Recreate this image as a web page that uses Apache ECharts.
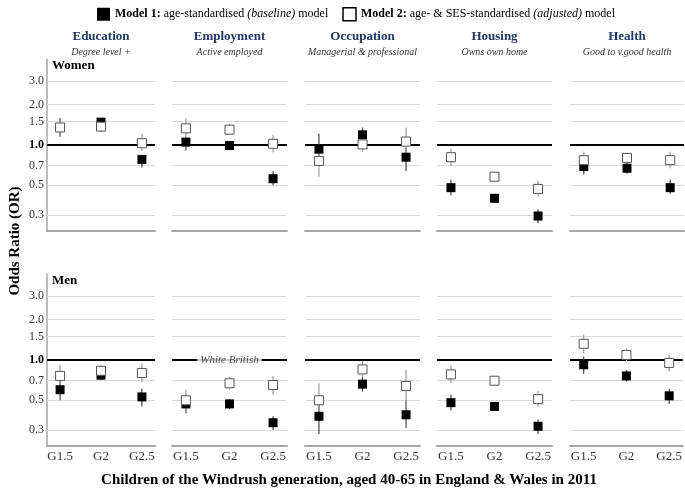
<!DOCTYPE html>
<html><head><meta charset="utf-8">
<script src="https://cdn.jsdelivr.net/npm/echarts@6/dist/echarts.min.js"></script>
<style>html,body{margin:0;padding:0;background:#fff}#c{width:685px;height:489px}</style>
</head><body><div id="c"></div>
<script>
// ---------- DATA ----------
const generations = ['G1.5', 'G2', 'G2.5'];
const domains = ['Education', 'Employment', 'Occupation', 'Housing', 'Health'];
const outcomes = ['Degree level +', 'Active employed', 'Managerial & professional', 'Owns own home', 'Good to v.good health'];
const sexes = ['Women', 'Men'];
const gridTicks = [0.3, 0.5, 0.7, 1.5, 2.0, 3.0];
const referenceOR = 1.0;
const referenceLabel = 'White British';

// rows = domains, columns = generations (G1.5, G2, G2.5)
const womenM1OR   = [[1.35, 1.48, 0.78], [1.05, 0.99, 0.56], [0.93, 1.19, 0.81], [0.48, 0.40, 0.295], [0.69, 0.67, 0.48]];
const womenM1Low  = [[1.15, 1.38, 0.68], [0.91, 0.93, 0.50], [0.80, 1.10, 0.64], [0.42, 0.38, 0.26], [0.60, 0.61, 0.43]];
const womenM1High = [[1.58, 1.57, 0.84], [1.15, 1.05, 0.64], [1.21, 1.35, 0.95], [0.55, 0.42, 0.33], [0.78, 0.73, 0.55]];
const womenM2OR   = [[1.35, 1.37, 1.03], [1.33, 1.30, 1.02], [0.76, 1.01, 1.06], [0.81, 0.58, 0.47], [0.77, 0.80, 0.77]];
const womenM2Low  = [[1.15, 1.25, 0.90], [1.15, 1.20, 0.88], [0.58, 0.89, 0.85], [0.70, 0.55, 0.41], [0.67, 0.72, 0.67]];
const womenM2High = [[1.58, 1.50, 1.21], [1.58, 1.44, 1.19], [1.00, 1.13, 1.35], [0.94, 0.63, 0.54], [0.89, 0.87, 0.89]];

const menM1OR   = [[0.60, 0.77, 0.53], [0.47, 0.47, 0.34], [0.38, 0.66, 0.39], [0.48, 0.45, 0.32], [0.92, 0.76, 0.54]];
const menM1Low  = [[0.50, 0.71, 0.45], [0.40, 0.43, 0.30], [0.28, 0.58, 0.31], [0.42, 0.42, 0.28], [0.79, 0.69, 0.47]];
const menM1High = [[0.70, 0.83, 0.61], [0.55, 0.51, 0.38], [0.50, 0.75, 0.50], [0.55, 0.48, 0.36], [1.06, 0.84, 0.61]];
const menM2OR   = [[0.76, 0.83, 0.80], [0.50, 0.67, 0.65], [0.50, 0.85, 0.64], [0.78, 0.70, 0.51], [1.32, 1.09, 0.95]];
const menM2Low  = [[0.63, 0.75, 0.68], [0.42, 0.60, 0.55], [0.38, 0.75, 0.45], [0.67, 0.66, 0.45], [1.12, 0.98, 0.82]];
const menM2High = [[0.92, 0.91, 0.94], [0.60, 0.75, 0.76], [0.67, 0.98, 0.84], [0.91, 0.74, 0.59], [1.55, 1.22, 1.09]];

// ---------- LAYOUT ----------
const FONT = '"Liberation Serif", "Times New Roman", serif';
const colLeft = [47, 172, 305, 437, 570];
const colWidth = [108, 115, 115, 115, 114];
const rowTop = [59, 274];
const rowHeight = 172;
const NAVY = '#1f3864';

const estimates = {
  Women: { m1: [womenM1OR, womenM1Low, womenM1High], m2: [womenM2OR, womenM2Low, womenM2High] },
  Men:   { m1: [menM1OR, menM1Low, menM1High],       m2: [menM2OR, menM2Low, menM2High] }
};

function errRender(color) {
  return function (params, api) {
    const x = api.value(0);
    const p1 = api.coord([x, api.value(1)]);
    const p2 = api.coord([x, api.value(2)]);
    return { type: 'line', shape: { x1: p1[0], y1: p1[1], x2: p2[0], y2: p2[1] },
             style: { stroke: color, lineWidth: 1.2 } };
  };
}

const grids = [], xAxes = [], yAxes = [], series = [];
let gi = 0;
sexes.forEach((sex, r) => {
  domains.forEach((dom, c) => {
    grids.push({ left: colLeft[c], top: rowTop[r], width: colWidth[c], height: rowHeight });
    xAxes.push({
      type: 'value', gridIndex: gi, min: 0.68, max: 3.32,
      axisLine: { show: true, onZero: false, lineStyle: { color: '#a6a6a6', width: 2 } },
      axisTick: { show: false }, splitLine: { show: false },
      axisLabel: {
        show: r === 1, customValues: [1, 2, 3], margin: 4,
        formatter: v => generations[Math.round(v) - 1],
        fontFamily: FONT, fontSize: 13, color: '#333'
      }
    });
    yAxes.push({
      type: 'log', logBase: 10, gridIndex: gi, min: 0.228, max: 4.38,
      axisLine: { show: c === 0, lineStyle: { color: '#a6a6a6', width: 1.5 } },
      axisTick: { show: false }, axisLabel: { show: false }, splitLine: { show: false }
    });
    const ml = gridTicks.map(v => ({
      yAxis: v,
      lineStyle: { color: '#d9d9d9', width: 1, type: 'solid' },
      label: { show: c === 0, position: 'start', distance: 3, formatter: v.toFixed(1),
               fontFamily: FONT, fontSize: 12, color: '#333' }
    }));
    series.push({
      type: 'scatter', xAxisIndex: gi, yAxisIndex: gi, data: [[2, referenceOR]], symbolSize: 0,
      silent: true, z: 1, animation: false,
      markLine: { silent: true, symbol: 'none', animation: false, z: 1, data: ml }
    });
    series.push({
      type: 'scatter', xAxisIndex: gi, yAxisIndex: gi, data: [[2, referenceOR]], symbolSize: 0,
      silent: true, z: 2, animation: false,
      markLine: { silent: true, symbol: 'none', animation: false, z: 2, data: [{
        yAxis: referenceOR, lineStyle: { color: '#000', width: 2, type: 'solid' },
        label: { show: c === 0, position: 'start', distance: 3, formatter: referenceOR.toFixed(1),
                 fontFamily: FONT, fontSize: 12, fontWeight: 'bold', color: '#000' }
      }] }
    });
    const e = estimates[sex];
    const m1 = generations.map((g, k) => [k + 1, e.m1[1][c][k], e.m1[2][c][k]]);
    const m2 = generations.map((g, k) => [k + 1, e.m2[1][c][k], e.m2[2][c][k]]);
    series.push({ type: 'custom', name: 'Model 1', xAxisIndex: gi, yAxisIndex: gi, z: 3, silent: true,
      renderItem: errRender('#444'), encode: { x: 0, y: [1, 2] }, data: m1, animation: false });
    series.push({ type: 'custom', name: 'Model 2', xAxisIndex: gi, yAxisIndex: gi, z: 3, silent: true,
      renderItem: errRender('#9a9a9a'), encode: { x: 0, y: [1, 2] }, data: m2, animation: false });
    series.push({ type: 'scatter', name: 'Model 1', xAxisIndex: gi, yAxisIndex: gi, z: 4, symbol: 'rect', symbolSize: 9,
      itemStyle: { color: '#000', opacity: 1 }, animation: false,
      data: generations.map((g, k) => [k + 1, e.m1[0][c][k]]) });
    series.push({ type: 'scatter', name: 'Model 2', xAxisIndex: gi, yAxisIndex: gi, z: 5, symbol: 'rect', symbolSize: 9,
      itemStyle: { color: '#fff', borderColor: '#555', borderWidth: 1, opacity: 1 }, animation: false,
      data: generations.map((g, k) => [k + 1, e.m2[0][c][k]]) });
    if (sex === 'Men' && dom === 'Employment') {
      series.push({ type: 'scatter', xAxisIndex: gi, yAxisIndex: gi, z: 6, symbolSize: 0, silent: true, animation: false,
        data: [[2, referenceOR]],
        label: { show: true, position: 'inside', formatter: referenceLabel, fontFamily: FONT, fontSize: 11,
                 fontStyle: 'italic', color: '#222', backgroundColor: '#fff', padding: [1, 3] } });
    }
    gi++;
  });
});

const graphic = [];
domains.forEach((d, c) => {
  const cx = colLeft[c] + colWidth[c] / 2;
  graphic.push({ type: 'text', x: cx, y: 37, style: { text: d, align: 'center', verticalAlign: 'middle',
    font: 'bold 13px ' + FONT, fill: NAVY } });
  graphic.push({ type: 'text', x: cx, y: 52, style: { text: outcomes[c], align: 'center', verticalAlign: 'middle',
    font: 'italic 10px ' + FONT, fill: '#333' } });
});
sexes.forEach((s, r) => {
  graphic.push({ type: 'text', x: 52, y: rowTop[r] + 7, style: { text: s, align: 'left', verticalAlign: 'middle',
    font: 'bold 13px ' + FONT, fill: '#000' } });
});
graphic.push({ type: 'text', x: 15, y: 241, rotation: Math.PI / 2, style: { text: 'Odds Ratio (OR)',
  align: 'center', verticalAlign: 'middle', font: 'bold 15px ' + FONT, fill: '#000' } });
graphic.push({ type: 'text', x: 349, y: 480, style: { text: 'Children of the Windrush generation, aged 40-65 in England & Wales in 2011',
  align: 'center', verticalAlign: 'middle', font: 'bold 15px ' + FONT, fill: '#000' } });

const rs = { fontFamily: FONT, fontSize: 12, color: '#000' };
const option = {
  backgroundColor: '#fff',
  animation: false,
  legend: {
    left: 92, top: 2, itemWidth: 13, itemHeight: 13, itemGap: 14, selectedMode: false, icon: 'rect',
    data: [
      { name: 'Model 1', itemStyle: { color: '#000', borderWidth: 0, opacity: 1 } },
      { name: 'Model 2', itemStyle: { color: '#fff', borderColor: '#000', borderWidth: 1.5, opacity: 1 } }
    ],
    formatter: n => n === 'Model 1'
      ? '{b|Model 1:} age-standardised {i|(baseline)} model'
      : '{b|Model 2:} age- & SES-standardised {i|(adjusted)} model',
    textStyle: Object.assign({}, rs, { rich: {
      b: Object.assign({}, rs, { fontWeight: 'bold' }),
      i: Object.assign({}, rs, { fontStyle: 'italic' })
    } })
  },
  grid: grids, xAxis: xAxes, yAxis: yAxes, series: series, graphic: graphic
};
echarts.init(document.getElementById('c'), null, { renderer: 'canvas' }).setOption(option);
</script></body></html>
